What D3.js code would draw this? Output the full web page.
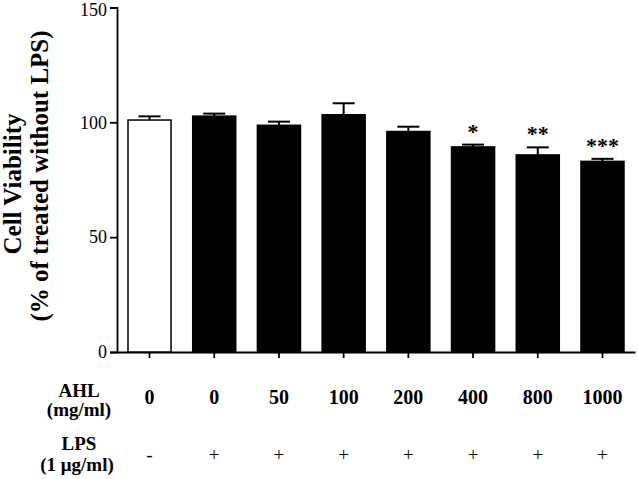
<!DOCTYPE html>
<html>
<head>
<meta charset="utf-8">
<script src="https://cdn.jsdelivr.net/npm/d3@7"></script>
<style>
  html, body { margin: 0; padding: 0; background: #fff; }
  svg { display: block; font-family: "Liberation Serif", "Times New Roman", serif; }
</style>
</head>
<body>
<svg id="chart" width="638" height="479"></svg>
<script>
const categories = ["0", "0", "50", "100", "200", "400", "800", "1000"];
const lpsSigns   = ["-", "+", "+", "+", "+", "+", "+", "+"];
const viability  = [101, 102.7, 98.7, 103.3, 96, 89.3, 85.8, 83];
const sem        = [1.6, 1.1, 1.6, 5.0, 2.1, 1.0, 3.3, 1.1];
const stars      = ["", "", "", "", "", "*", "**", "***"];
const fills      = ["#fff", "#000", "#000", "#000", "#000", "#000", "#000", "#000"];
const yTicks     = [0, 50, 100, 150];

const svg = d3.select("#chart");
const idx = d3.range(categories.length);

const x = d3.scaleBand().domain(idx).range([117, 635]).paddingInner(0.335).paddingOuter(0.17);
const y = d3.scaleLinear().domain([0, 150]).range([352, 7.5]);

// Y axis
const yAxis = svg.append("g").attr("transform", "translate(117,0)")
  .call(d3.axisLeft(y).tickValues(yTicks).tickSize(7).tickPadding(3));
yAxis.select(".domain").attr("stroke", "#000").attr("stroke-width", 1.8);
yAxis.selectAll(".tick line").attr("stroke", "#000").attr("stroke-width", 1.8);
yAxis.selectAll(".tick text").attr("font-size", 18).attr("font-family", "Liberation Serif").attr("fill", "#000")
  .attr("dy", (d) => d === 150 ? "0.45em" : "0.32em");

// X axis
const xAxis = svg.append("g").attr("transform", "translate(0,352)")
  .call(d3.axisBottom(x).tickSize(6).tickSizeOuter(0).tickFormat(""));
xAxis.select(".domain").attr("stroke", "#000").attr("stroke-width", 1.8);
xAxis.selectAll(".tick line").attr("stroke", "#000").attr("stroke-width", 1.8);

// Bars
svg.append("g").selectAll("rect").data(idx).join("rect")
  .attr("x", i => x(i))
  .attr("y", i => y(viability[i]))
  .attr("width", x.bandwidth())
  .attr("height", i => y(0) - y(viability[i]))
  .attr("fill", i => fills[i])
  .attr("stroke", "#000")
  .attr("stroke-width", 1.5);

// Error bars (upper only)
const eb = svg.append("g").attr("stroke", "#000").attr("stroke-width", 2);
eb.selectAll("line.v").data(idx).join("line").attr("class", "v")
  .attr("x1", i => x(i) + x.bandwidth() / 2).attr("x2", i => x(i) + x.bandwidth() / 2)
  .attr("y1", i => y(viability[i])).attr("y2", i => y(viability[i] + sem[i]));
eb.selectAll("line.c").data(idx).join("line").attr("class", "c")
  .attr("x1", i => x(i) + x.bandwidth() / 2 - 11).attr("x2", i => x(i) + x.bandwidth() / 2 + 11)
  .attr("y1", i => y(viability[i] + sem[i])).attr("y2", i => y(viability[i] + sem[i]));

// Significance stars
svg.append("g").selectAll("text").data(idx).join("text")
  .attr("x", i => x(i) + x.bandwidth() / 2)
  .attr("y", i => y(viability[i] + sem[i]) - 6)
  .attr("text-anchor", "middle")
  .attr("font-size", 22)
  .attr("font-weight", "bold")
  .attr("fill", "#000")
  .text(i => stars[i]);

// Category labels
const lab = svg.append("g").attr("font-size", 19).attr("font-weight", "bold").attr("text-anchor", "middle").attr("fill", "#000");
lab.selectAll("text.ahl").data(idx).join("text").attr("class", "ahl")
  .attr("x", i => x(i) + x.bandwidth() / 2).attr("y", 404).attr("font-size", 20).text(i => categories[i]);
lab.selectAll("text.lps").data(idx).join("text").attr("class", "lps")
  .attr("x", i => x(i) + x.bandwidth() / 2).attr("y", 461).attr("font-weight", "normal").text(i => lpsSigns[i]);

// Row headers
lab.append("text").attr("x", 79).attr("y", 397).text("AHL");
lab.append("text").attr("x", 79).attr("y", 416).text("(mg/ml)");
lab.append("text").attr("x", 79).attr("y", 450).text("LPS");
lab.append("text").attr("x", 77).attr("y", 471).text("(1 μg/ml)");

// Y title
const yt = svg.append("g").attr("font-size", 25).attr("font-weight", "bold").attr("text-anchor", "middle").attr("fill", "#000");
yt.append("text").attr("transform", "translate(21,184) rotate(-90)").text("Cell Viability");
yt.append("text").attr("transform", "translate(48,176) rotate(-90)").text("(% of treated without LPS)");
</script>
</body>
</html>
